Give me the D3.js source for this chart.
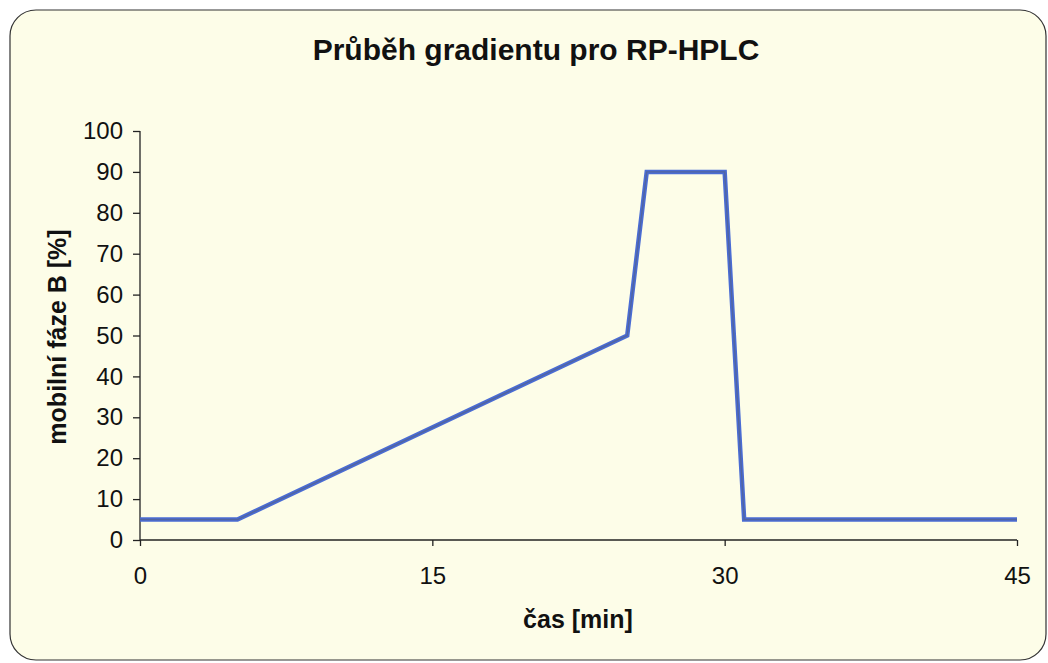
<!DOCTYPE html>
<html lang="cs">
<head>
<meta charset="UTF-8">
<title>Průběh gradientu</title>
<script src="https://cdn.jsdelivr.net/npm/d3@7"></script>
<style>
  body { margin: 0; padding: 0; background: #fff; }
  svg text { font-family: "Liberation Sans", Arial, sans-serif; fill: #111; }
</style>
</head>
<body>
<div id="chart"></div>
<script>
// gradient program: time [min] vs. % of mobile phase B
var timeMin = [0, 5, 25, 26, 30, 31, 45];
var phaseB  = [5, 5, 50, 90, 90, 5, 5];
var xTicks = [0, 15, 30, 45];
var yTicks = [0, 10, 20, 30, 40, 50, 60, 70, 80, 90, 100];

var W = 1048, H = 663;
var svg = d3.select("#chart").append("svg")
    .attr("width", W).attr("height", H);

// card background with rounded frame
svg.append("rect")
    .attr("x", 10).attr("y", 10)
    .attr("width", 1036).attr("height", 650)
    .attr("rx", 26).attr("ry", 26)
    .attr("fill", "#fdfde8")
    .attr("stroke", "#333").attr("stroke-width", 1.2);

var x = d3.scaleLinear().domain([0, 45]).range([140, 1017]);
var y = d3.scaleLinear().domain([0, 100]).range([540, 131]);

svg.append("text")
    .attr("x", 536).attr("y", 60)
    .attr("text-anchor", "middle")
    .style("font-size", "30px").style("font-weight", "bold")
    .text("Průběh gradientu pro RP-HPLC");

var yAxis = svg.append("g")
    .attr("transform", "translate(" + x(0) + ",0)")
    .call(d3.axisLeft(y).tickValues(yTicks).tickSize(7).tickPadding(10));
var xAxis = svg.append("g")
    .attr("transform", "translate(0," + y(0) + ")")
    .call(d3.axisBottom(x).tickValues(xTicks).tickSize(6).tickPadding(21));

[xAxis, yAxis].forEach(function(a) {
  a.select(".domain").attr("stroke", "#222").attr("stroke-width", 1.3);
  a.selectAll(".tick line").attr("stroke", "#222").attr("stroke-width", 1.3);
  a.selectAll(".tick text")
    .style("font-size", "24px")
    .style("font-family", "Liberation Sans, Arial, sans-serif")
    .attr("fill", "#111");
});
yAxis.select(".domain").attr("d", "M0," + y(100) + "V" + y(0));
xAxis.select(".domain").attr("d", "M" + x(0) + ",0H" + x(45));

var line = d3.line()
    .x(function(d, i) { return x(timeMin[i]); })
    .y(function(d) { return y(d); });

svg.append("path")
    .datum(phaseB)
    .attr("fill", "none")
    .attr("stroke", "#4a6cd4")
    .attr("stroke-width", 4.5)
    .attr("d", line);
svg.append("path")
    .datum(phaseB)
    .attr("fill", "none")
    .attr("stroke", "#56607e")
    .attr("stroke-width", 1.4)
    .attr("stroke-opacity", 0.6)
    .attr("d", line);

svg.append("text")
    .attr("x", 578).attr("y", 628)
    .attr("text-anchor", "middle")
    .style("font-size", "25px").style("font-weight", "bold")
    .text("čas [min]");

svg.append("text")
    .attr("transform", "translate(66,337) rotate(-90)")
    .attr("text-anchor", "middle")
    .style("font-size", "25px").style("font-weight", "bold")
    .text("mobilní fáze B [%]");
</script>
</body>
</html>
